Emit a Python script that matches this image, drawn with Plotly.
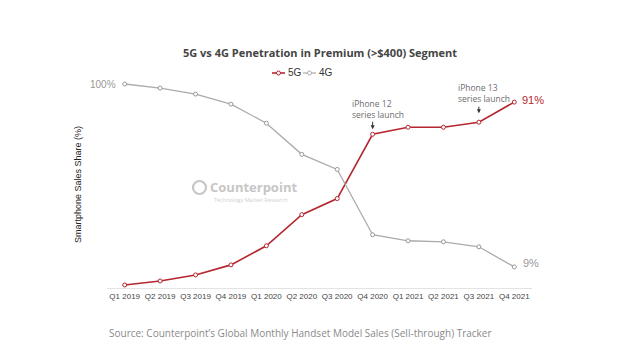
import plotly.graph_objects as go

quarters = ["Q1 2019", "Q2 2019", "Q3 2019", "Q4 2019", "Q1 2020", "Q2 2020",
            "Q3 2020", "Q4 2020", "Q1 2021", "Q2 2021", "Q3 2021", "Q4 2021"]
share_5g = [0, 2, 5, 10, 19.5, 35, 43, 75, 78.5, 78.5, 81, 91]
share_4g = [100, 98, 95, 90, 80.5, 65, 57.5, 25, 22, 21.5, 19, 9]
series_names = ["5G", "4G"]

RED = "#B5262E"
GRAY = "#ABABAB"

W, H = 640, 352
ML, MR, MT, MB = 107, 108, 80, 64
PW, PH = W - ML - MR, H - MT - MB


def px(x):
    return (x - ML) / PW


def py(y):
    return (H - MB - y) / PH


fig = go.Figure()
fig.add_trace(go.Scatter(
    x=quarters, y=share_5g, name=series_names[0], mode="lines+markers",
    line=dict(color=RED, width=1.6),
    marker=dict(symbol="circle", size=4, color="white", line=dict(color=RED, width=1)),
))
fig.add_trace(go.Scatter(
    x=quarters, y=share_4g, name=series_names[1], mode="lines+markers",
    line=dict(color=GRAY, width=1.3),
    marker=dict(symbol="circle", size=4, color="white", line=dict(color="#999999", width=1)),
))

ann = []
shapes = []
# title
ann.append(dict(text="<b>5G vs 4G Penetration in Premium (>$400) Segment</b>",
                xref="paper", yref="paper", x=px(320), y=py(52), xanchor="center", yanchor="middle",
                showarrow=False, font=dict(family="Open Sans", size=11, color="#444444")))
# custom compact legend
for i, (name, col, lw) in enumerate(zip(series_names, [RED, GRAY], [1.6, 1.2])):
    x0 = 272 + i * 31
    yc = 73
    shapes.append(dict(type="line", xref="paper", yref="paper", x0=px(x0), x1=px(x0 + 13),
                       y0=py(yc), y1=py(yc), line=dict(color=col, width=lw)))
    shapes.append(dict(type="circle", xref="paper", yref="paper", x0=px(x0 + 4.5), x1=px(x0 + 8.5),
                       y0=py(yc + 2), y1=py(yc - 2), fillcolor="white",
                       line=dict(color=col, width=1)))
    ann.append(dict(text=name, xref="paper", yref="paper", x=px(x0 + 13.5), y=py(yc),
                    xanchor="left", yanchor="middle", showarrow=False,
                    font=dict(family="Liberation Sans", size=10, color="#333333")))
# y axis title
ann.append(dict(text="Smartphone Sales Share (%)", textangle=-90,
                xref="paper", yref="paper", x=px(78), y=py(185), xanchor="center", yanchor="middle",
                showarrow=False, font=dict(family="Liberation Sans", size=9, color="#222222")))
# value labels
ann.append(dict(text="100%", xref="x", yref="y", x=quarters[0], y=share_4g[0], xanchor="right",
                xshift=-7, yanchor="middle", showarrow=False,
                font=dict(family="Liberation Sans", size=10, color="#999999")))
ann.append(dict(text="91%", xref="x", yref="y", x=quarters[-1], y=share_5g[-1], xanchor="left",
                xshift=6, yshift=2, yanchor="middle", showarrow=False,
                font=dict(family="Liberation Sans", size=11, color=RED)))
ann.append(dict(text="9%", xref="x", yref="y", x=quarters[-1], y=share_4g[-1], xanchor="left",
                xshift=7, yshift=4, yanchor="middle", showarrow=False,
                font=dict(family="Liberation Sans", size=11, color="#999999")))
# launch notes
ann.append(dict(text="iPhone 12<br>series launch", xref="x", yref="paper", x="Q4 2020",
                y=py(109), xanchor="left", xshift=-23, yanchor="middle", align="left", showarrow=False,
                font=dict(family="Open Sans", size=8.5, color="#6E6E6E")))
ann.append(dict(text="", xref="x", yref="y", x="Q4 2020", y=share_5g[7] + 2.5, showarrow=True,
                ax=0, ay=-9, arrowhead=2, arrowsize=0.8, arrowwidth=1, arrowcolor="#333333"))
ann.append(dict(text="iPhone 13<br>series launch", xref="x", yref="paper", x="Q3 2021",
                y=py(93), xanchor="left", xshift=-23, yanchor="middle", align="left", showarrow=False,
                font=dict(family="Open Sans", size=8.5, color="#6E6E6E")))
ann.append(dict(text="", xref="x", yref="y", x="Q3 2021", y=share_5g[10] + 4.5, showarrow=True,
                ax=0, ay=-8, arrowhead=2, arrowsize=0.8, arrowwidth=1, arrowcolor="#333333"))
# watermark
ann.append(dict(text="<b>Counterpoint</b>", xref="paper", yref="paper", x=px(208), y=py(187),
                xanchor="left", yanchor="middle", showarrow=False,
                font=dict(family="Open Sans", size=13, color="#C6C6C6")))
ann.append(dict(text="Technology Market Research", xref="paper", yref="paper", x=px(212), y=py(200),
                xanchor="left", yanchor="middle", showarrow=False,
                font=dict(family="Open Sans", size=5.5, color="#CFCFCF")))
# source
ann.append(dict(text="Source: Counterpoint\u2019s Global Monthly Handset Model Sales (Sell-through) Tracker",
                xref="paper", yref="paper", x=px(107), y=py(333), xanchor="left", yanchor="middle",
                showarrow=False, font=dict(family="Open Sans", size=10, color="#8A8A8A")))

shapes.append(dict(type="circle", xref="paper", yref="paper",
                   x0=px(193), x1=px(206), y0=py(194), y1=py(181),
                   line=dict(color="#C6C6C6", width=2.2)))

fig.update_layout(
    width=W, height=H,
    margin=dict(l=ML, r=MR, t=MT, b=MB),
    paper_bgcolor="white", plot_bgcolor="white",
    showlegend=False,
    xaxis=dict(type="category", range=[-0.5, 11.5], showgrid=False, zeroline=False,
               showline=True, linecolor="#E3E3E3", linewidth=1, ticks="",
               tickfont=dict(family="Liberation Sans", size=8, color="#444444")),
    yaxis=dict(range=[-1.5, 102], showgrid=False, zeroline=False, showticklabels=False,
               showline=False, ticks=""),
    annotations=ann,
    shapes=shapes,
)

fig.write_html("out.html")
